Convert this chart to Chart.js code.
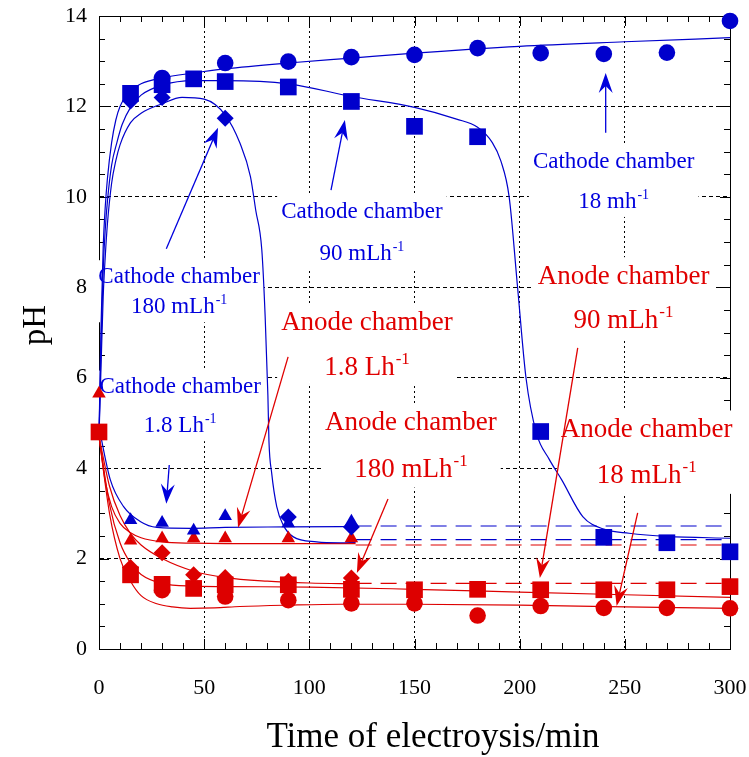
<!DOCTYPE html>
<html>
<head>
<meta charset="utf-8">
<script src="https://cdn.jsdelivr.net/npm/chart.js@4.4.1/dist/chart.umd.min.js"></script>
<style>
html,body{margin:0;padding:0;background:#ffffff;overflow:hidden;}
canvas{display:block;}
</style>
</head>
<body>
<canvas id="chart" width="749" height="757"></canvas>
<script>
// ---------------- data ----------------
const xTickValues = [0, 50, 100, 150, 200, 250, 300];
const yTickValues = [0, 2, 4, 6, 8, 10, 12, 14];
const xTitle = 'Time of electroysis/min';
const yTitle = 'pH';

// measured points – cathode chamber (blue)
const tCath18   = [30, 60, 90, 120, 150, 180, 210, 240, 270, 300];
const pHCath18  = [12.63, 12.96, 12.99, 13.09, 13.14, 13.29, 13.18, 13.16, 13.19, 13.89];
const tCath90   = [15, 30, 45, 60, 90, 120, 150, 180, 210, 240, 270, 300];
const pHCath90  = [12.29, 12.48, 12.61, 12.55, 12.43, 12.11, 11.56, 11.33, 4.81, 2.47, 2.35, 2.15];
const tCath180  = [15, 30, 60, 90, 120];
const pHCath180 = [12.12, 12.2, 11.74, 2.92, 2.7];
const tCath1800 = [15, 30, 45, 60, 90, 120];
const pHCath1800= [2.85, 2.79, 2.62, 2.94, 2.78, 2.82];

// measured points – anode chamber (red)
const tAn1800   = [0, 15, 30, 45, 60, 90, 120];
const pHAn1800  = [5.65, 2.4, 2.45, 2.45, 2.45, 2.45, 2.45];
const tAn180    = [15, 30, 45, 60, 90, 120];
const pHAn180   = [1.8, 2.13, 1.64, 1.58, 1.5, 1.57];
const tAn90     = [0, 15, 30, 45, 60, 90, 120, 150, 180, 210, 240, 270, 300];
const pHAn90    = [4.8, 1.64, 1.43, 1.34, 1.42, 1.42, 1.32, 1.31, 1.32, 1.31, 1.31, 1.31, 1.38];
const tAn18     = [30, 60, 90, 120, 150, 180, 210, 240, 270, 300];
const pHAn18    = [1.3, 1.16, 1.08, 1.01, 1.01, 0.74, 0.95, 0.91, 0.91, 0.9];

// fitted curves
const cvCath18T  = [0, 1, 2, 3, 4, 6, 8, 10, 15, 20, 30, 45, 60, 90, 120, 150, 200, 250, 300];
const cvCath18P  = [4.7, 7.2, 8.9, 9.8, 10.4, 11.2, 11.7, 12.0, 12.35, 12.5, 12.63, 12.74, 12.83, 12.96, 13.07, 13.18, 13.33, 13.43, 13.52];
const cvCath90T  = [0, 1, 2, 3, 4, 6, 8.5, 11, 15, 20, 30, 45, 60, 90, 120, 150, 170, 180, 187, 191, 195, 199, 203, 208, 214, 220, 230, 240, 252, 270, 300];
const cvCath90P  = [4.7, 6.8, 8.4, 9.3, 9.9, 10.7, 11.2, 11.6, 11.98, 12.25, 12.47, 12.57, 12.57, 12.5, 12.22, 11.98, 11.72, 11.54, 11.2, 10.8, 10.0, 8.0, 6.0, 4.77, 4.2, 3.74, 2.93, 2.65, 2.56, 2.49, 2.45];
const cvCath180T = [0, 1, 2, 3, 4, 6, 8, 10, 15, 20, 30, 39.5, 50, 60, 67, 72, 74.5, 77.4, 79, 80.3, 80.8, 82.1, 84.5, 87.6, 92.4, 103.5, 114.6, 122];
const cvCath180P = [4.7, 6.3, 7.8, 8.7, 9.4, 10.3, 10.8, 11.15, 11.64, 11.85, 12.06, 12.2, 12.16, 11.81, 11.19, 10.45, 9.71, 8.83, 7.35, 5.6, 4.6, 3.89, 3.15, 2.74, 2.48, 2.37, 2.35, 2.36];
const cvCath1800T = [0, 5.4, 11.7, 19.6, 27.5, 43.4, 60, 90, 122];
const cvCath1800P = [4.9, 3.74, 3.15, 2.82, 2.69, 2.67, 2.69, 2.7, 2.71];
const cvAn1800T  = [0, 3, 6, 10, 15, 20, 30, 45, 60, 90, 122];
const cvAn1800P  = [4.7, 3.7, 3.15, 2.78, 2.57, 2.46, 2.37, 2.34, 2.33, 2.33, 2.33];
const cvAn180T   = [0, 5, 10, 15, 20, 30, 45, 60, 80, 100, 122];
const cvAn180P   = [4.7, 3.6, 2.95, 2.55, 2.3, 2.0, 1.72, 1.58, 1.5, 1.46, 1.44];
const cvAn90T    = [0, 5, 10, 15, 20, 30, 45, 60, 100, 150, 200, 250, 300];
const cvAn90P    = [4.7, 3.2, 2.35, 1.9, 1.65, 1.45, 1.39, 1.38, 1.37, 1.32, 1.26, 1.2, 1.14];
const cvAn18T    = [0, 5, 10, 15, 20, 27.5, 35, 43.4, 55, 67, 90, 115, 150, 200, 250, 300];
const cvAn18P    = [4.7, 3.0, 2.0, 1.5, 1.18, 1.0, 0.93, 0.9, 0.91, 0.94, 0.97, 0.99, 0.99, 0.97, 0.93, 0.9];

// dashed extrapolations
const exCath1800T = [122, 300], exCath1800P = [2.72, 2.72];
const exCath180T  = [122, 300], exCath180P  = [2.42, 2.42];
const exAn1800T   = [122, 300], exAn1800P   = [2.30, 2.30];
const exAn180T    = [122, 300], exAn180P    = [1.45, 1.45];

// ---------------- styles ----------------
const BLUE = '#0000cc';
const RED  = '#dd0000';
const TXT_BLUE = '#0000dd';
const TXT_RED  = '#e00000';
const FONT = '"Liberation Serif", "Times New Roman", Times, serif';

const pts = (ts, ps) => ts.map((t, i) => ({x: t, y: ps[i]}));

function markerSet(ts, ps, color, style, r) {
  return {data: pts(ts, ps), showLine: false, pointStyle: style, pointRadius: r, pointHoverRadius: r,
          backgroundColor: color, borderColor: color, borderWidth: 0, clip: false};
}
function curveSet(ts, ps, color, dash) {
  return {data: pts(ts, ps), showLine: true, pointRadius: 0, pointHoverRadius: 0, borderColor: color,
          backgroundColor: color, borderWidth: 1.2, cubicInterpolationMode: 'monotone', fill: false,
          borderDash: dash || [], clip: false};
}

const datasets = [
  markerSet(tCath18, pHCath18, BLUE, 'circle', 8.3),
  markerSet(tCath90, pHCath90, BLUE, 'rect', 11.8),
  markerSet(tCath180, pHCath180, BLUE, 'rectRot', 8.5),
  markerSet(tCath1800, pHCath1800, BLUE, 'triangle', 7.8),
  markerSet(tAn1800, pHAn1800, RED, 'triangle', 7.8),
  markerSet(tAn180, pHAn180, RED, 'rectRot', 8.5),
  markerSet(tAn90, pHAn90, RED, 'rect', 11.8),
  markerSet(tAn18, pHAn18, RED, 'circle', 8.3),
  curveSet(cvCath18T, cvCath18P, BLUE),
  curveSet(cvCath90T, cvCath90P, BLUE),
  curveSet(cvCath180T, cvCath180P, BLUE),
  curveSet(cvCath1800T, cvCath1800P, BLUE),
  curveSet(cvAn1800T, cvAn1800P, RED),
  curveSet(cvAn180T, cvAn180P, RED),
  curveSet(cvAn90T, cvAn90P, RED),
  curveSet(cvAn18T, cvAn18P, RED),
  curveSet(exCath1800T, exCath1800P, BLUE, [16, 9]),
  curveSet(exCath180T, exCath180P, BLUE, [16, 9]),
  curveSet(exAn1800T, exAn1800P, RED, [16, 9]),
  curveSet(exAn180T, exAn180P, RED, [16, 9])
];

// annotations: text block centre (time), baselines (pH), arrow tail -> tip (time, pH)
const annotations = [
  {color: TXT_BLUE, size: 23, t: 244.7, p1: 10.64, p2: 9.76, l1: 'Cathode chamber', l2: '18 mh', sup: '-1', arrow: [240.9, 11.42, 240.9, 12.74]},
  {color: TXT_BLUE, size: 23, t: 125.0, p1: 9.54, p2: 8.61, l1: 'Cathode chamber', l2: '90 mLh', sup: '-1', arrow: [110.3, 10.15, 116.9, 11.70]},
  {color: TXT_BLUE, size: 23, t: 38.1, p1: 8.10, p2: 7.43, l1: 'Cathode chamber', l2: '180 mLh', sup: '-1', arrow: [32.0, 8.85, 56.6, 11.53]},
  {color: TXT_BLUE, size: 23, t: 38.6, p1: 5.66, p2: 4.80, l1: 'Cathode chamber', l2: '1.8 Lh', sup: '-1', arrow: [33.4, 4.07, 32.0, 3.21]},
  {color: TXT_RED, size: 27, t: 127.4, p1: 7.06, p2: 6.06, l1: 'Anode chamber', l2: '1.8 Lh', sup: '-1', arrow: [89.9, 6.46, 66.1, 2.68]},
  {color: TXT_RED, size: 27, t: 148.3, p1: 4.85, p2: 3.81, l1: 'Anode chamber', l2: '180 mLh', sup: '-1', arrow: [137.4, 3.32, 122.6, 1.68]},
  {color: TXT_RED, size: 27, t: 249.4, p1: 8.08, p2: 7.10, l1: 'Anode chamber', l2: '90 mLh', sup: '-1', arrow: [227.6, 6.66, 209.6, 1.57]},
  {color: TXT_RED, size: 27, t: 260.4, p1: 4.69, p2: 3.67, l1: 'Anode chamber', l2: '18 mLh', sup: '-1', arrow: [256.1, 3.01, 246.1, 0.95]}
];

function lineWidths(ctx, a) {
  ctx.font = a.size + 'px ' + FONT;
  const w1 = ctx.measureText(a.l1).width;
  const w2main = ctx.measureText(a.l2).width;
  ctx.font = Math.round(a.size * 0.62) + 'px ' + FONT;
  const wsup = ctx.measureText(a.sup).width;
  return {w1, w2main, wsup, w2: w2main + wsup + 1};
}

function drawArrow(ctx, x1, y1, x2, y2, color) {
  const ang = Math.atan2(y2 - y1, x2 - x1);
  const L = 20, W = 7, N = 13;
  const c = Math.cos(ang), s = Math.sin(ang);
  const bx = x2 - c * N, by = y2 - s * N;
  ctx.strokeStyle = color; ctx.lineWidth = 1.3; ctx.setLineDash([]);
  ctx.beginPath(); ctx.moveTo(x1, y1); ctx.lineTo(bx, by); ctx.stroke();
  const cx = x2 - c * L, cy = y2 - s * L;
  const px = -s, py = c;
  ctx.fillStyle = color;
  ctx.beginPath();
  ctx.moveTo(x2, y2);
  ctx.lineTo(cx + px * W, cy + py * W);
  ctx.lineTo(bx, by);
  ctx.lineTo(cx - px * W, cy - py * W);
  ctx.closePath();
  ctx.fill();
}

const deco = {
  id: 'deco',
  beforeDatasetsDraw(chart) {
    const {ctx, chartArea: a, scales: {x, y}} = chart;
    ctx.save();
    ctx.strokeStyle = '#000'; ctx.lineWidth = 1; ctx.setLineDash([]);
    // top & right frame
    ctx.beginPath();
    ctx.moveTo(a.left, Math.round(a.top) + 0.5); ctx.lineTo(a.right, Math.round(a.top) + 0.5);
    ctx.moveTo(Math.round(a.right) + 0.5, a.top); ctx.lineTo(Math.round(a.right) + 0.5, a.bottom);
    ctx.stroke();
    // inward ticks on all sides
    ctx.beginPath();
    for (let t = 0; t <= 300; t += 10) {
      const px = Math.round(x.getPixelForValue(t)) + 0.5;
      const len = (t % 50 === 0) ? 10 : 6;
      ctx.moveTo(px, a.bottom); ctx.lineTo(px, a.bottom - len);
      ctx.moveTo(px, a.top); ctx.lineTo(px, a.top + len);
    }
    for (let v = 0; v <= 14; v += 0.5) {
      const py = Math.round(y.getPixelForValue(v)) + 0.5;
      const len = (v % 2 === 0) ? 10 : 6;
      ctx.moveTo(a.left, py); ctx.lineTo(a.left + len, py);
      ctx.moveTo(a.right, py); ctx.lineTo(a.right - len, py);
    }
    ctx.stroke();
    // white backgrounds behind the annotation texts
    ctx.fillStyle = '#ffffff';
    annotations.forEach(an => {
      const w = lineWidths(ctx, an);
      const maxW = Math.max(w.w1, w.w2);
      const cx = x.getPixelForValue(an.t);
      const top = y.getPixelForValue(an.p1) - an.size * 0.98;
      const bottom = y.getPixelForValue(an.p2) + an.size * 0.4;
      ctx.fillRect(cx - maxW / 2 - 4, top, maxW + 8, bottom - top);
    });
    ctx.restore();
  },
  afterDatasetsDraw(chart) {
    const {ctx, scales: {x, y}} = chart;
    ctx.save();
    annotations.forEach(an => {
      const w = lineWidths(ctx, an);
      const cx = x.getPixelForValue(an.t);
      const b1 = y.getPixelForValue(an.p1);
      const b2 = y.getPixelForValue(an.p2);
      ctx.fillStyle = an.color;
      ctx.textAlign = 'left'; ctx.textBaseline = 'alphabetic';
      ctx.font = an.size + 'px ' + FONT;
      ctx.fillText(an.l1, cx - w.w1 / 2, b1);
      const x0 = cx - w.w2 / 2;
      ctx.fillText(an.l2, x0, b2);
      ctx.font = Math.round(an.size * 0.62) + 'px ' + FONT;
      ctx.fillText(an.sup, x0 + w.w2main + 1, b2 - an.size * 0.4);
      const [t1, q1, t2, q2] = an.arrow;
      drawArrow(ctx, x.getPixelForValue(t1), y.getPixelForValue(q1), x.getPixelForValue(t2), y.getPixelForValue(q2), an.color);
    });
    ctx.restore();
  },
  afterDraw(chart) {
    // axis titles, placed as in the reference (x title slightly right of centre)
    const {ctx} = chart;
    ctx.save();
    ctx.fillStyle = '#000';
    ctx.font = '35px ' + FONT;
    ctx.textAlign = 'center'; ctx.textBaseline = 'alphabetic';
    ctx.fillText(xTitle, 433, 747);
    ctx.translate(36, 325);
    ctx.rotate(-Math.PI / 2);
    ctx.font = '33px ' + FONT;
    ctx.textBaseline = 'middle';
    ctx.fillText(yTitle, 0, 0);
    ctx.restore();
  }
};

new Chart(document.getElementById('chart').getContext('2d'), {
  type: 'scatter',
  data: {datasets},
  options: {
    responsive: false,
    animation: false,
    events: [],
    layout: {padding: {top: 16, right: 19, left: 0, bottom: 0}},
    plugins: {legend: {display: false}, tooltip: {enabled: false}},
    scales: {
      x: {
        type: 'linear', min: 0, max: 300,
        afterBuildTicks: s => { s.ticks = xTickValues.map(v => ({value: v})); },
        ticks: {font: {family: FONT, size: 22}, color: '#000', padding: 26, maxRotation: 0, autoSkip: false},
        grid: {color: '#000', lineWidth: 1, drawTicks: false},
        border: {display: true, color: '#000', width: 1, dash: [2, 3]},
        title: {display: false},
        afterFit: s => { s.height = 108; s.paddingLeft = 0; s.paddingRight = 0; }
      },
      y: {
        type: 'linear', min: 0, max: 14,
        afterBuildTicks: s => { s.ticks = yTickValues.map(v => ({value: v})); },
        ticks: {font: {family: FONT, size: 22}, color: '#000', padding: 12, autoSkip: false},
        grid: {color: '#000', lineWidth: 1, drawTicks: false},
        border: {display: true, color: '#000', width: 1, dash: [4, 3]},
        title: {display: false},
        afterFit: s => { s.width = 99; s.paddingTop = 0; s.paddingBottom = 0; }
      }
    }
  },
  plugins: [deco]
});
</script>
</body>
</html>
